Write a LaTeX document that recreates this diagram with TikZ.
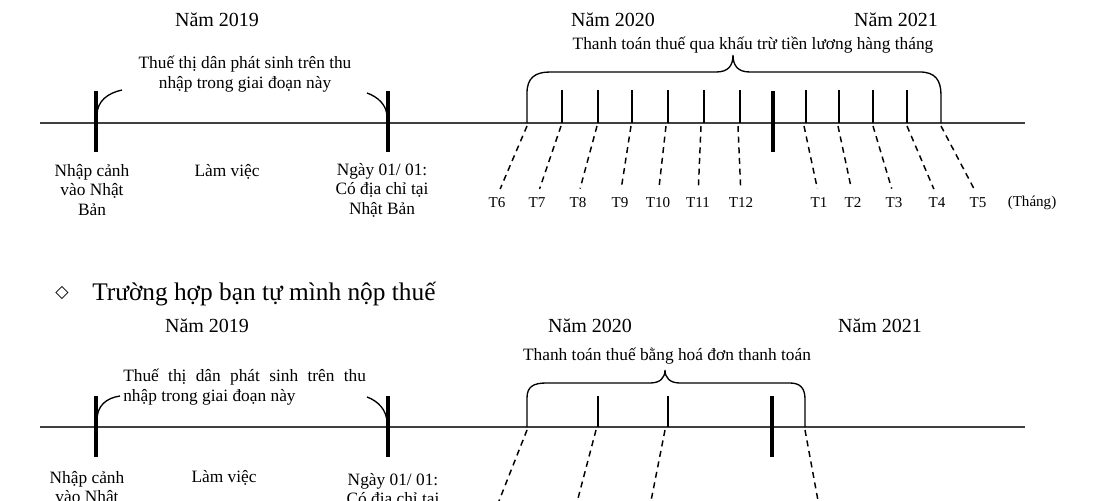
\documentclass[tikz,border=0pt]{standalone}
\usepackage{fontspec}
\setmainfont{Liberation Serif}
\newfontfamily\symfont{DejaVu Sans}

\begin{document}
\begin{tikzpicture}[x=0.75pt,y=-0.75pt,
    axis/.style={line width=1.2pt,black!75},
    bar/.style={line width=2.6pt},
    tick/.style={line width=0.8pt},
    link/.style={line width=1.1pt,dash pattern=on 4.5pt off 3.5pt},
    brace/.style={line width=1pt},
    year/.style={font=\fontsize{15}{18}\selectfont,inner sep=0pt},
    lbl/.style={font=\fontsize{13}{14.6}\selectfont,align=center,inner sep=0pt},
    month/.style={font=\fontsize{11.3}{13}\selectfont,inner sep=1pt}]
  \useasboundingbox (0,0) rectangle (1110,500);

  % --- truong hop khau tru luong
  \node[year] (y19) at (217,20) {Năm 2019};
  \node[year] (y20) at (613,20) {Năm 2020};
  \node[year] (y21) at (896,20) {Năm 2021};
  \node[lbl] (tax) at (245,74) {Thuế thị dân phát sinh trên thu\\nhập trong giai đoạn này};
  \node[lbl] (pay) at (753,45) {Thanh toán thuế qua khấu trừ tiền lương hàng tháng};

  \draw[axis] (40,123) -- (1025,123);
  \foreach \x in {96,388,773}
    \draw[bar] (\x,91) -- (\x,152);
  \draw[brace] (97,115) .. controls (97,101) and (108,93) .. (122,90);
  \draw[brace] (367,93) .. controls (378,97) and (387,105) .. (387,117);
  \draw[brace] (527,123) -- (527,93) .. controls (527,78) and (535,72) .. (550,72)
    -- (716,72) .. controls (728,72) and (733,66) .. (733,55)
    .. controls (733,66) and (738,72) .. (750,72)
    -- (920,72) .. controls (935,72) and (941,80) .. (941,95) -- (941,123);
  \foreach \x in {562,598,632,668,704,740,806,839,873,907}
    \draw[tick] (\x,90) -- (\x,123);

  \node[lbl] (entry) at (92,190) {Nhập cảnh\\vào Nhật\\Bản};
  \node[lbl] (work) at (227,172) {Làm việc};
  \node[lbl] (jan) at (382,190) {Ngày 01/ 01:\\Có địa chỉ tại\\Nhật Bản};

  \foreach \n/\x/\lx in {6/527/497,7/561/537,8/597/578,9/631/620,10/666/658,
      11/701/698,12/738/741,1/804/819,2/838/853,3/873/894,4/907/937,5/941/978} {
    \coordinate (m\n) at (\x,126);
    \node[month] (T\n) at (\lx,203) {T\n};
    \draw[link,shorten >=6pt] (m\n) -- (T\n.north);
  }
  \node[month] (unit) at (1032,203) {(Tháng)};

  % --- truong hop tu nop thue
  \node[font=\symfont\fontsize{13}{15}\selectfont] (dia) at (62,293) {◇};
  \node[font=\fontsize{19}{22}\selectfont,anchor=west,inner sep=0pt] (head) at (92,294)
    {Trường hợp bạn tự mình nộp thuế};
  \node[year] (b19) at (207,326) {Năm 2019};
  \node[year] (b20) at (590,326) {Năm 2020};
  \node[year] (b21) at (880,326) {Năm 2021};
  \node[lbl,text width=182pt,align=justify,anchor=north west] (btax) at (123,369)
    {Thuế thị dân phát sinh trên thu\linebreak nhập trong giai đoạn này};
  \node[lbl] (bpay) at (667,356) {Thanh toán thuế bằng hoá đơn thanh toán};

  \draw[axis] (40,427) -- (1025,427);
  \foreach \x in {96,388,772}
    \draw[bar] (\x,396) -- (\x,457);
  \draw[brace] (97,420) .. controls (97,406) and (106,398) .. (120,396);
  \draw[brace] (367,397) .. controls (378,401) and (387,410) .. (387,423);
  \draw[brace] (527,427) -- (527,398) .. controls (527,387) and (533,383) .. (546,383)
    -- (650,383) .. controls (660,383) and (665,378) .. (665,370)
    .. controls (665,378) and (670,383) .. (680,383)
    -- (790,383) .. controls (800,383) and (805,388) .. (805,399) -- (805,427);
  \foreach \x in {598,668}
    \draw[tick] (\x,396) -- (\x,427);

  \node[lbl] (bentry) at (87,497) {Nhập cảnh\\vào Nhật\\Bản};
  \node[lbl] (bwork) at (224,478) {Làm việc};
  \node[lbl] (bjan) at (393,500) {Ngày 01/ 01:\\Có địa chỉ tại\\Nhật Bản};

  \foreach \n/\x/\ex in {a/527/497,b/596/576,c/665/650,d/805/819} {
    \coordinate (p\n) at (\x,430);
    \coordinate (q\n) at (\ex,506);
    \draw[link] (p\n) -- (q\n);
  }
\end{tikzpicture}
\end{document}
